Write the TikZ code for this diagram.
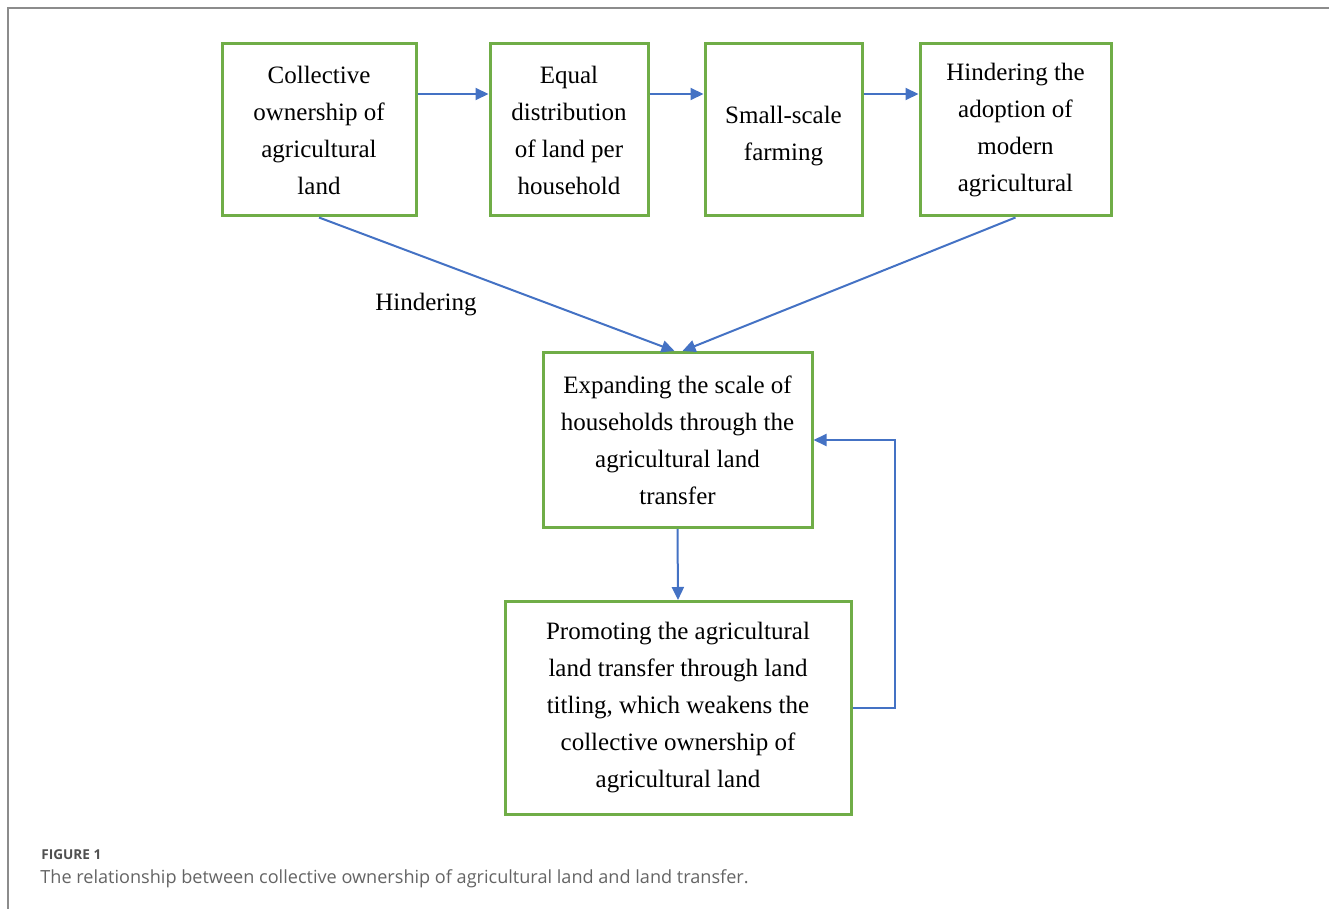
\documentclass[tikz,border=0pt]{standalone}
\usepackage{fontspec}
\setmainfont{Liberation Serif}
\newfontfamily\capfont{Open Sans}
\usetikzlibrary{arrows.meta}
\definecolor{boxgreen}{RGB}{112,173,71}
\definecolor{linkblue}{RGB}{68,114,196}
\definecolor{framegray}{RGB}{140,140,140}
\definecolor{capgray}{RGB}{100,100,100}

\begin{document}
\begin{tikzpicture}[x=.5pt,y=-.5pt,
 box/.style={draw=boxgreen,line width=1.5pt,align=center,inner sep=0pt,font=\fontsize{12.5}{18.5}\selectfont},
 link/.style={draw=linkblue,line width=1pt,-{Triangle[length=6.5pt,width=6pt]}}]
\useasboundingbox (0,0) rectangle (1329,909);
\draw[framegray,line width=1pt] (8,909)--(8,8)--(1329,8);
% top row
\node[box,minimum width=97pt,minimum height=86pt] (own) at (319,130) {Collective\\ownership of\\agricultural\\land};
\node[box,minimum width=79pt,minimum height=86pt] (equal) at (569,130) {Equal\\distribution\\of land per\\household};
\node[box,minimum width=78.5pt,minimum height=86pt] (small) at (783.5,130) {\rule{0pt}{15pt}Small-scale\\farming};
\node[box,minimum width=95.5pt,minimum height=86pt] (hinder) at (1015.5,130) {Hindering the\\adoption of\\modern\\agricultural};
% lower boxes
\node[box,minimum width=134.5pt,minimum height=87.5pt] (expand) at (677.5,440) {Expanding the scale of\\households through the\\agricultural land\\transfer};
\node[box,minimum width=173pt,minimum height=106.5pt] (promote) at (678,708) {Promoting the agricultural\\land transfer through land\\titling, which weakens the\\collective ownership of\\agricultural land};
% connectors
\draw[link] (own.east|-0,94) -- (equal.west|-0,94);
\draw[link] (equal.east|-0,94) -- (small.west|-0,94);
\draw[link] (small.east|-0,94) -- (hinder.west|-0,94);
\draw[link] (own.south) -- ([xshift=-1.5pt]expand.north);
\draw[link] (hinder.south) -- ([xshift=2.5pt]expand.north);
\draw[link] (expand.south) -- (promote.north);
\draw[link] (promote.east) -- ++(21pt,0) |- (expand.east);
\node[font=\fontsize{12.5}{15}\selectfont] (lbl) at (426,305) {Hindering};
% caption
\node[anchor=base west,inner sep=0pt,text=capgray!80!black,font=\capfont\bfseries\fontsize{6.8}{8}\selectfont] (fig) at (41,859) {FIGURE 1};
\node[anchor=base west,inner sep=0pt,text=capgray,font=\capfont\fontsize{9.05}{11}\selectfont] (cap) at (40,883) {The relationship between collective ownership of agricultural land and land transfer.};
\end{tikzpicture}
\end{document}
